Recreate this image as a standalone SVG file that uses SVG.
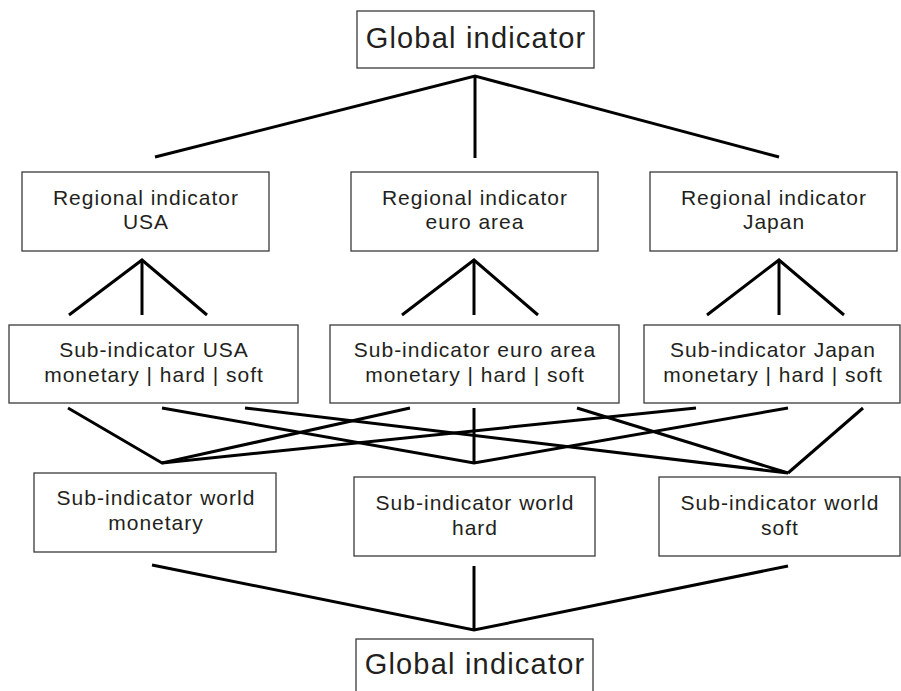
<svg xmlns="http://www.w3.org/2000/svg" width="901" height="691" viewBox="0 0 901 691">
<style>
.box{fill:#fff;stroke:#3a3a3a;stroke-width:1.3}
.t{font-family:"Liberation Sans",Arial,sans-serif;font-size:21px;letter-spacing:1px;fill:#231f20;text-anchor:middle}
.big{font-size:29px;letter-spacing:1.2px}
.c{stroke:#000;stroke-width:3;fill:none;stroke-linecap:butt;stroke-linejoin:miter}
</style>
<rect width="901" height="691" fill="#fff"/>
<g id="connectors">
<polyline class="c" points="155,157 475,76 779,157"/>
<line class="c" x1="475" y1="76" x2="475" y2="158"/>
<polyline class="c" points="69,315 142,260 207,315"/>
<line class="c" x1="142" y1="260" x2="142" y2="315"/>
<polyline class="c" points="402,315 474,260 538,315"/>
<line class="c" x1="474" y1="260" x2="474" y2="315"/>
<polyline class="c" points="707,315 779,260 844,315"/>
<line class="c" x1="779" y1="260" x2="779" y2="315"/>
<polyline class="c" points="68,408 162,463 410,408"/>
<line class="c" x1="162" y1="463" x2="696" y2="408"/>
<polyline class="c" points="162,408 474,463 788,408"/>
<line class="c" x1="474" y1="408" x2="474" y2="463"/>
<polyline class="c" points="245,408 788,473 577,408"/>
<line class="c" x1="788" y1="473" x2="863" y2="408"/>
<polyline class="c" points="152,565 474,630 788,566"/>
<line class="c" x1="474" y1="566" x2="474" y2="630"/>
</g>
<g id="global-top">
<rect class="box" x="357" y="11" width="237" height="57"/>
<text class="t big" x="476" y="48">Global indicator</text>
</g>
<g id="regional-usa">
<rect class="box" x="22" y="172" width="247" height="79"/>
<text class="t" x="146" y="205">Regional indicator</text>
<text class="t" x="146" y="229">USA</text>
</g>
<g id="regional-euro">
<rect class="box" x="351" y="172" width="247" height="79"/>
<text class="t" x="475" y="205">Regional indicator</text>
<text class="t" x="475" y="229">euro area</text>
</g>
<g id="regional-japan">
<rect class="box" x="650" y="172" width="247" height="79"/>
<text class="t" x="774" y="205">Regional indicator</text>
<text class="t" x="774" y="229">Japan</text>
</g>
<g id="sub-usa">
<rect class="box" x="9" y="325" width="289" height="78"/>
<text class="t" x="154" y="357">Sub-indicator USA</text>
<text class="t" x="154" y="382">monetary | hard | soft</text>
</g>
<g id="sub-euro">
<rect class="box" x="330" y="325" width="289" height="78"/>
<text class="t" x="475" y="357">Sub-indicator euro area</text>
<text class="t" x="475" y="382">monetary | hard | soft</text>
</g>
<g id="sub-japan">
<rect class="box" x="644" y="325" width="256" height="78"/>
<text class="t" x="773" y="357">Sub-indicator Japan</text>
<text class="t" x="773" y="382">monetary | hard | soft</text>
</g>
<g id="world-monetary">
<rect class="box" x="34" y="473" width="242" height="79"/>
<text class="t" x="156" y="505">Sub-indicator world</text>
<text class="t" x="156" y="530">monetary</text>
</g>
<g id="world-hard">
<rect class="box" x="354" y="477" width="241" height="79"/>
<text class="t" x="475" y="510">Sub-indicator world</text>
<text class="t" x="475" y="535">hard</text>
</g>
<g id="world-soft">
<rect class="box" x="659" y="477" width="241" height="79"/>
<text class="t" x="780" y="510">Sub-indicator world</text>
<text class="t" x="780" y="535">soft</text>
</g>
<g id="global-bottom">
<rect class="box" x="356" y="639" width="237" height="60"/>
<text class="t big" x="475" y="674">Global indicator</text>
</g>
</svg>
